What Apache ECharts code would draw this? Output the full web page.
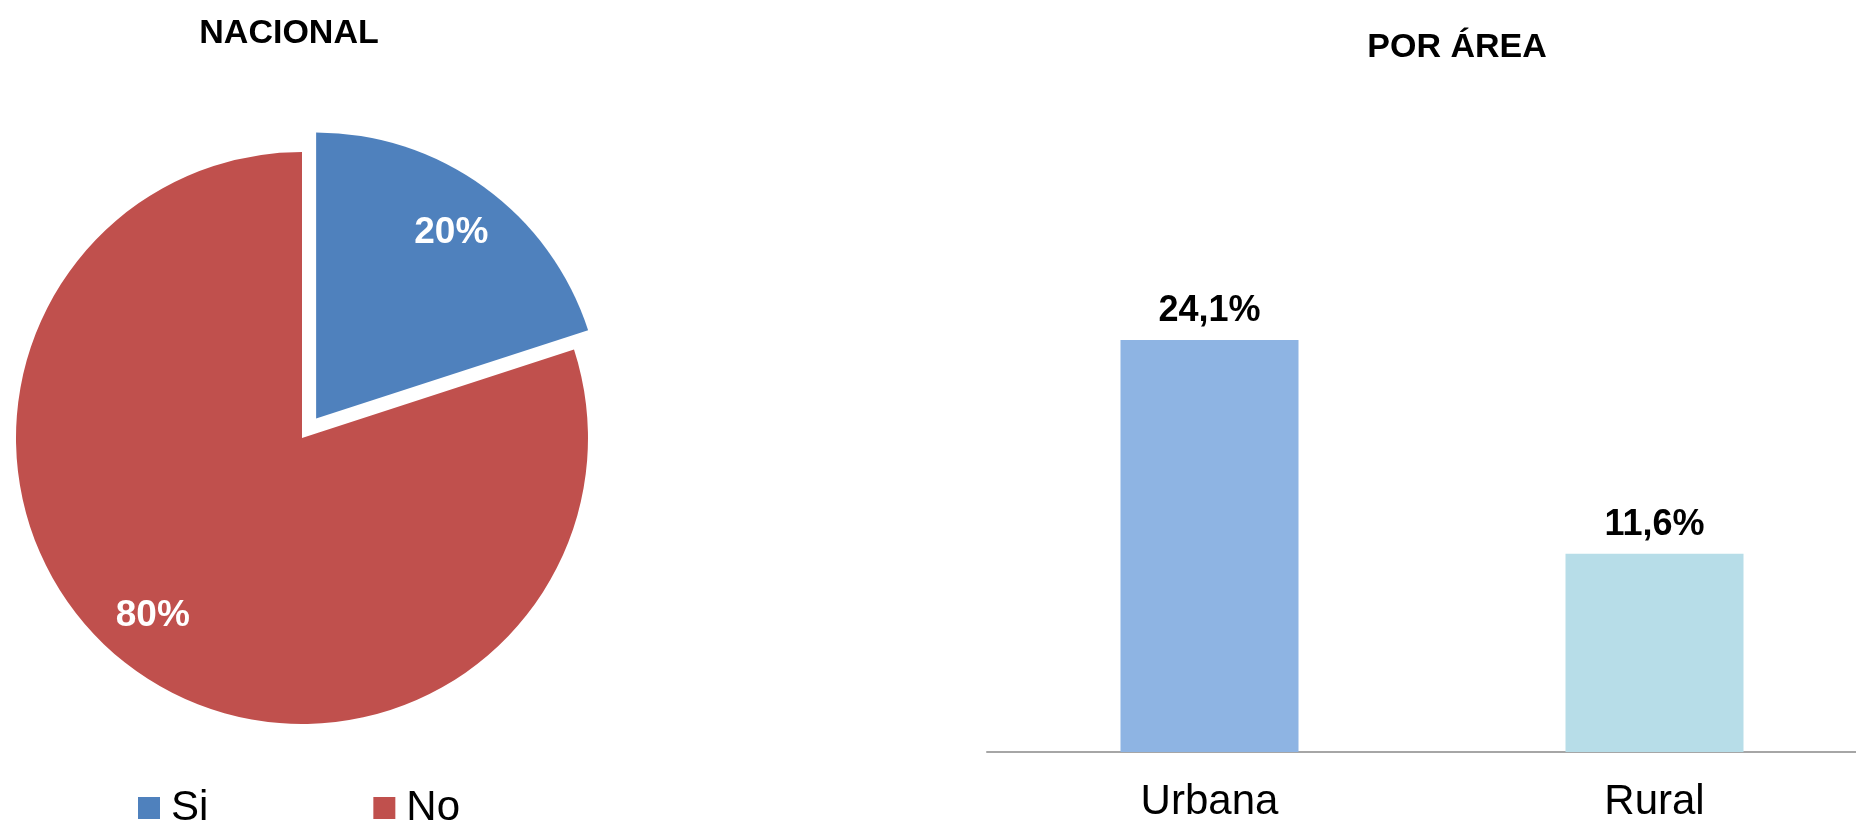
<!DOCTYPE html>
<html>
<head>
<meta charset="utf-8">
<script src="https://cdn.jsdelivr.net/npm/echarts@6/dist/echarts.min.js"></script>
<style>
html,body{margin:0;padding:0;background:#fff;}
#chart{width:1856px;height:826px;}
</style>
</head>
<body>
<div id="chart"></div>
<script>
// Data
const pieCategories = ['Si', 'No'];
const pieValues = [20, 80];
const pieColors = ['#4F81BD', '#C0504D'];
const barCategories = ['Urbana', 'Rural'];
const barValues = [24.1, 11.6];
const barColors = ['#8EB4E3', '#B7DDE8'];
const titles = ['NACIONAL', 'POR ÁREA'];

const FONT = '"Liberation Sans", Arial, sans-serif';
const pieLabelOffsets = [[0, 0], [-14, -8]];

const chart = echarts.init(document.getElementById('chart'), null, {renderer: 'canvas'});

const pieData = pieCategories.map((name, i) => ({
  name: name,
  value: pieValues[i],
  selected: i === 0,
  itemStyle: {color: pieColors[i]}
}));
const overlayData = pieCategories.map((name, i) => ({
  name: name,
  value: pieValues[i],
  selected: i === 0,
  label: {offset: pieLabelOffsets[i]}
}));

const option = {
  animation: false,
  backgroundColor: '#ffffff',
  title: [
    {text: titles[0], left: 289, top: 17, textAlign: 'center', padding: 0,
     textStyle: {fontFamily: FONT, fontSize: 34, fontWeight: 'bold', color: '#000', lineHeight: 34}},
    {text: titles[1], left: 1457, top: 31, textAlign: 'center', padding: 0,
     textStyle: {fontFamily: FONT, fontSize: 34, fontWeight: 'bold', color: '#000', lineHeight: 34}}
  ],
  legend: {
    data: pieCategories,
    left: 138, top: 787,
    icon: 'rect', itemWidth: 22, itemHeight: 22, itemGap: 165,
    padding: 0,
    selectedMode: false,
    textStyle: {fontFamily: FONT, fontSize: 42, color: '#000', lineHeight: 42, padding: [0, 0, 0, 6]}
  },
  grid: {left: 987, width: 890, top: 239, bottom: 74, containLabel: false, outerBoundsMode: 'none'},
  xAxis: {
    type: 'category',
    data: barCategories,
    axisLine: {show: true, lineStyle: {color: '#A6A6A6', width: 2}},
    axisTick: {show: false},
    axisLabel: {fontFamily: FONT, fontSize: 42, color: '#000', margin: 29, lineHeight: 42}
  },
  yAxis: {type: 'value', min: 0, max: 30, show: false, splitLine: {show: false}},
  series: [
    {
      type: 'pie',
      center: [302, 438],
      radius: 286,
      startAngle: 90,
      clockwise: true,
      selectedMode: 'single',
      selectedOffset: 24,
      silent: true,
      label: {show: false},
      labelLine: {show: false},
      emphasis: {disabled: true},
      select: {itemStyle: {borderWidth: 0}},
      data: pieData
    },
    {
      type: 'pie',
      center: [302, 438],
      radius: [168, 286],
      startAngle: 90,
      clockwise: true,
      selectedMode: 'single',
      selectedOffset: 24,
      silent: true,
      itemStyle: {color: 'rgba(0,0,0,0)'},
      label: {show: true, position: 'inner', formatter: '{d}%',
        fontFamily: FONT, fontSize: 37, fontWeight: 'bold', color: '#ffffff'},
      labelLine: {show: false},
      emphasis: {disabled: true},
      select: {itemStyle: {color: 'rgba(0,0,0,0)', borderWidth: 0}},
      data: overlayData
    },
    {
      type: 'bar',
      barWidth: 178,
      data: barValues.map((v, i) => ({value: v, itemStyle: {color: barColors[i]}})),
      label: {
        show: true, position: 'top', distance: 11,
        fontFamily: FONT, fontSize: 36, fontWeight: 'bold', color: '#000',
        formatter: p => p.value.toFixed(1).replace('.', ',') + '%'
      },
      emphasis: {disabled: true}
    }
  ]
};
chart.setOption(option);
</script>
</body>
</html>
